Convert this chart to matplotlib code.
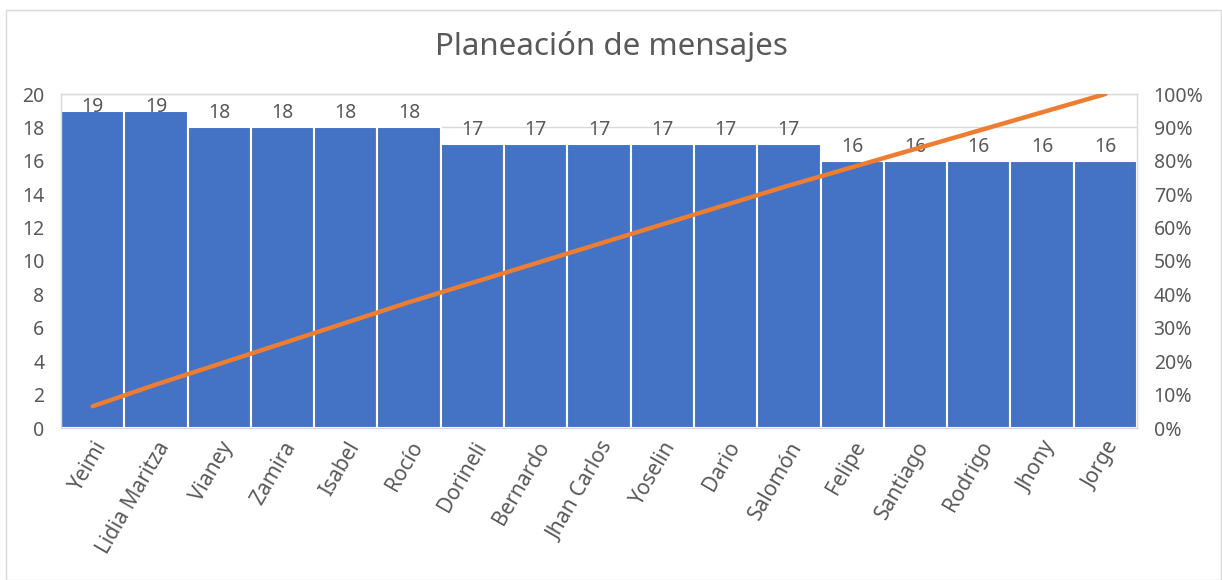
import matplotlib
matplotlib.use("Agg")
import matplotlib.pyplot as plt
from matplotlib.patches import Rectangle
from matplotlib.ticker import PercentFormatter
import numpy as np

categories = ["Yeimi", "Lidia Maritza", "Vianey", "Zamira", "Isabel", "Rocío",
              "Dorineli", "Bernardo", "Jhan Carlos", "Yoselin", "Dario", "Salomón",
              "Felipe", "Santiago", "Rodrigo", "Jhony", "Jorge"]
values = [19, 19, 18, 18, 18, 18, 17, 17, 17, 17, 17, 17, 16, 16, 16, 16, 16]
title = "Planeación de mensajes"

plt.rcParams['font.family'] = ['Noto Sans', 'DejaVu Sans']
text_color = "#595959"
fs = 14

W, H = 1222, 580
fig = plt.figure(figsize=(W / 100, H / 100), dpi=100)
fig.patch.set_facecolor("white")
fig.add_artist(Rectangle((6 / W, 0.5 / H), (W - 7) / W, (H - 10.5) / H,
                         transform=fig.transFigure, fill=False,
                         edgecolor="#D9D9D9", linewidth=1))

left, right, top, bottom = 61, 1137, 94, 428
ax = fig.add_axes([left / W, 1 - bottom / H, (right - left) / W, (bottom - top) / H])

x = np.arange(len(categories))
vals = np.array(values, dtype=float)
cum = np.cumsum(vals) / vals.sum()

ax.set_axisbelow(True)
ax.yaxis.grid(True, color="#D9D9D9", linewidth=1)
ax.bar(x, vals, width=1.0, color="#4472C4", edgecolor="white", linewidth=1.5, zorder=2)
ax.set_xlim(-0.5, len(categories) - 0.5)
ax.set_ylim(0, 20)
ax.set_yticks(np.arange(0, 21, 2))

for xi, v in zip(x, values):
    if v + 1.4 > 20:
        ax.annotate(str(v), (xi, 20), xytext=(0, -2), textcoords="offset points",
                    ha="center", va="top", fontsize=fs, color=text_color, zorder=5)
    else:
        ax.annotate(str(v), (xi, v), xytext=(0, 3), textcoords="offset points",
                    ha="center", va="bottom", fontsize=fs, color=text_color, zorder=5)

ax.set_xticks(x)
ax.set_xticklabels(categories, rotation=60, ha="right", rotation_mode="anchor")
ax.tick_params(axis="both", length=0, labelsize=fs, colors=text_color)
ax.tick_params(axis="x", pad=7, labelsize=15)
ax.tick_params(axis="y", pad=12)
for s in ax.spines.values():
    s.set_color("#D9D9D9")
    s.set_linewidth(1)

ax2 = ax.twinx()
ax2.plot(x, cum, color="#ED7D31", linewidth=3.2, solid_capstyle="round", zorder=6)
ax2.set_ylim(0, 1)
ax2.set_yticks(np.arange(0, 1.01, 0.1))
ax2.yaxis.set_major_formatter(PercentFormatter(1.0, decimals=0))
ax2.tick_params(axis="y", length=0, labelsize=fs, colors=text_color, pad=12)
for s in ax2.spines.values():
    s.set_visible(False)

fig.text(0.5, 1 - 47 / H, title, ha="center", va="center", fontsize=22.5, color=text_color)

fig.savefig("out.png", dpi=100, facecolor="white")
